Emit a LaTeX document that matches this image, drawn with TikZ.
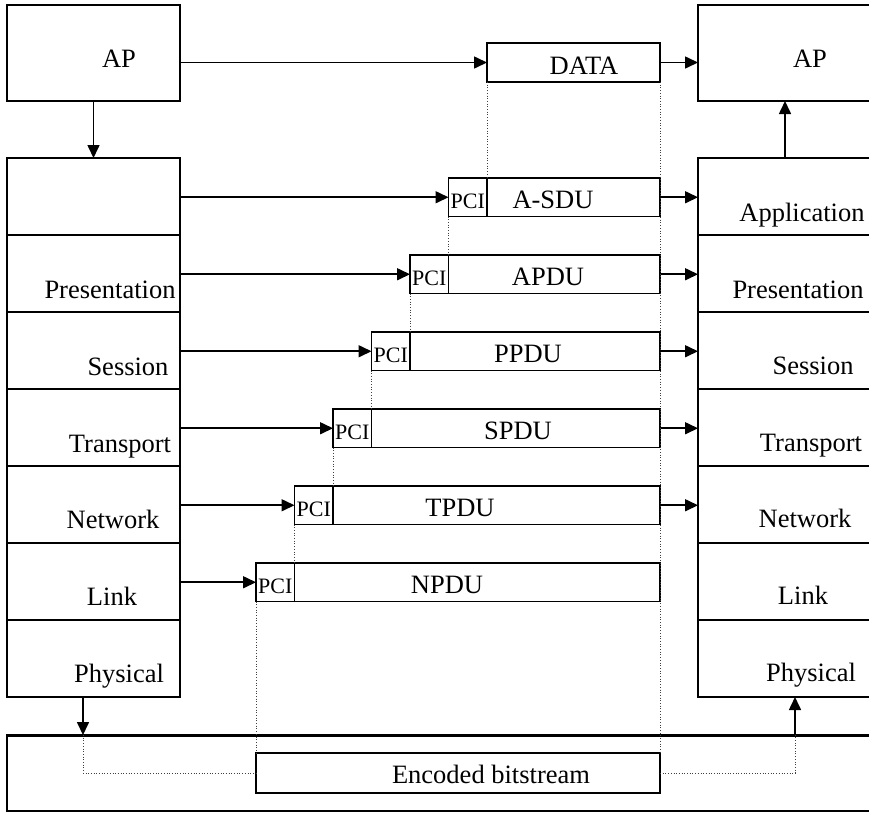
\documentclass[tikz,border=0pt]{standalone}
\usepackage{fontspec}
\setmainfont{Liberation Serif}
\usetikzlibrary{arrows.meta}
\begin{document}
\begin{tikzpicture}[x=1pt,y=-1pt,
  box/.style={draw, line width=1.6pt, inner sep=0pt, outer sep=0pt, rectangle},
  lbl/.style={inner sep=0pt, anchor=base, font=\fontsize{26.5}{30}\selectfont},
  pcitxt/.style={inner sep=0pt, anchor=base, font=\fontsize{22}{26}\selectfont},
  arr/.style={line width=1.6pt, -{Triangle[length=13pt,width=12pt]}},
  dots/.style={line width=0.7pt, dotted, black!75}]
\useasboundingbox (0,0) rectangle (869,812);
\clip (0,0) rectangle (869,812);
% application processes
\node[box, minimum width=173pt, minimum height=96pt] (apL) at (93.5,53) {};
\node[lbl] (apLt) at (119,67) {AP};
\node[box, minimum width=192pt, minimum height=96pt] (apR) at (794,53) {};
\node[lbl] (apRt) at (810,67) {AP};
% stacks
\foreach \i in {1,...,7}{
  \pgfmathsetmacro\cy{196.5+77*(\i-1)}
  \node[box, minimum width=173pt, minimum height=77pt] (L\i) at (93.5,\cy) {};
  \node[box, minimum width=192pt, minimum height=77pt] (R\i) at (794,\cy) {};
}
\foreach \t/\x/\y [count=\j] in {Presentation/110/298,Session/128/375,Transport/120/452,Network/113/528,Link/112/605,Physical/119/682}
  \node[lbl] (Lt\j) at (\x,\y) {\t};
\foreach \t/\x/\y [count=\j] in {Application/802/221,Presentation/798/298,Session/813/374,Transport/811/451,Network/805/527,Link/803/604,Physical/811/681}
  \node[lbl] (Rt\j) at (\x,\y) {\t};
% data
\node[box, minimum width=173pt, minimum height=39pt] (data) at (573.5,62.5) {};
\node[lbl] (datat) at (584,74) {DATA};
% PDU rows
\foreach \t/\cx [count=\k] in {A-SDU/553,APDU/548,PPDU/528,SPDU/518,TPDU/460,NPDU/447}{
  \pgfmathsetmacro\rt{178+77*(\k-1)}
  \pgfmathsetmacro\pcl{487-38.5*\k}
  \pgfmathsetmacro\pcr{487-38.5*(\k-1)}
  \pgfmathsetmacro\sw{660-\pcr}
  \node[box, minimum width=38.5pt, minimum height=38.5pt, anchor=north west] (pci\k) at (\pcl,\rt) {};
  \node[box, minimum width=\sw pt, minimum height=38.5pt, anchor=north west] (sdu\k) at (\pcr,\rt) {};
  \node[pcitxt] (pcit\k) at (\pcl+19.25,\rt+30) {PCI};
  \node[lbl] (sdut\k) at (\cx,\rt+30) {\t};
  \draw[arr] (pci\k.west -| L\k.east) -- (pci\k.west);
}
\foreach \k in {1,...,5}
  \draw[arr] (sdu\k.east) -- (sdu\k.east -| R\k.west);
% bottom medium
\node[box, minimum width=883pt, minimum height=76pt] (medium) at (448.5,773) {};
\draw[line width=3pt] (medium.north west) -- (medium.north east);
\node[box, line width=2.2pt, minimum width=404pt, minimum height=40pt] (bits) at (458,773) {};
\node[lbl] (bitst) at (491,783) {Encoded bitstream};
% top arrows
\draw[arr] (apL.south) -- (L1.north);
\coordinate (ux) at (785,0);
\draw[arr] (R1.north -| ux) -- (apR.south -| ux);
\draw[arr] (apL.east |- data.west) -- (data.west);
\draw[arr] (data.east) -- (data.east -| apR.west);
% dotted guides
\draw[dots] (data.south west) -- (pci1.north east);
\foreach \k [evaluate=\k as \n using int(\k+1)] in {1,...,5}
  \draw[dots] (pci\k.south west) -- (pci\n.north east);
\draw[dots] (pci6.south west) -- (bits.north west);
\draw[dots] (data.south east) -- (bits.north east);
% physical medium links
\coordinate (lb) at (83,735);
\coordinate (rb) at (795,735);
\draw[arr] (L7.south -| lb) -- (lb);
\draw[dots] (lb) |- (bits.west);
\draw[arr] (rb) -- (rb |- R7.south);
\draw[dots] (bits.east) -| (rb);
\end{tikzpicture}
\end{document}
